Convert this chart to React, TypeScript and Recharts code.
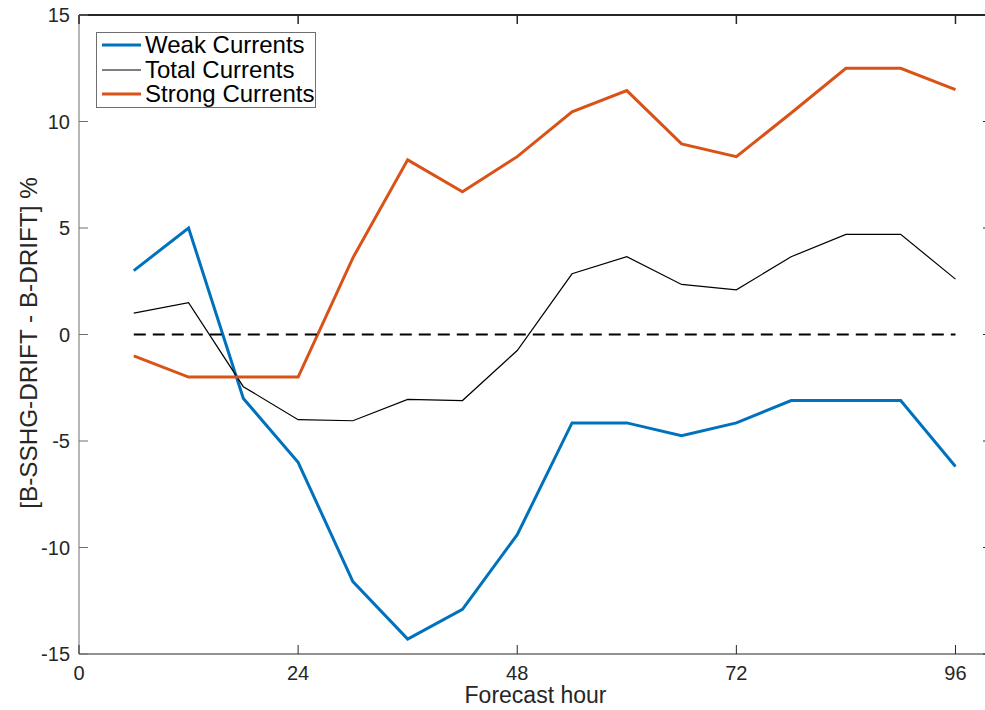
import { LineChart, Line, XAxis, YAxis, Label, ReferenceLine } from 'recharts';

const hours = [6, 12, 18, 24, 30, 36, 42, 48, 54, 60, 66, 72, 78, 84, 90, 96];
const weakCurrents = [3, 5, -3, -6, -11.6, -14.3, -12.9, -9.4, -4.15, -4.15, -4.75, -4.15, -3.1, -3.1, -3.1, -6.2];
const totalCurrents = [1, 1.5, -2.45, -4.0, -4.05, -3.05, -3.1, -0.75, 2.85, 3.65, 2.35, 2.1, 3.65, 4.7, 4.7, 2.6];
const strongCurrents = [-1, -2, -2, -2, 3.6, 8.2, 6.7, 8.35, 10.45, 11.45, 8.95, 8.35, 10.4, 12.5, 12.5, 11.5];
const zeroLine = hours.map(() => 0);

const xTicks = [0, 24, 48, 72, 96];
const yTicks = [-15, -10, -5, 0, 5, 10, 15];
const yMax = 15;

const series = [
  { key: 'weak', name: 'Weak Currents', color: '#0072BD', width: 3 },
  { key: 'total', name: 'Total Currents', color: '#000000', width: 1.2 },
  { key: 'strong', name: 'Strong Currents', color: '#D95319', width: 3 },
];

const data = hours.map((h, i) => ({
  hour: h,
  weak: weakCurrents[i],
  total: totalCurrents[i],
  strong: strongCurrents[i],
  zero: zeroLine[i],
}));

const FONT = '"Liberation Sans", Arial, Helvetica, sans-serif';
const AXIS = '#262626';
const FRAME = '#6e6e6e';
const TICK_LEN = 9;
const PLOT_TOP = 15;

// bottom ticks also draw the mirrored tick on the top edge of the box
function BottomTick(props: any) {
  const { x, y, payload } = props;
  return (
    <g>
      <line x1={x} x2={x} y1={y} y2={y - TICK_LEN} stroke={AXIS} strokeWidth={1} />
      <line x1={x} x2={x} y1={PLOT_TOP} y2={PLOT_TOP + TICK_LEN} stroke={AXIS} strokeWidth={1.5} />
      <text x={x} y={y + 26} textAnchor="middle" fontSize={20} fontFamily={FONT} fill={AXIS}>
        {payload.value}
      </text>
    </g>
  );
}

function LeftTick(props: any) {
  const { x, y, payload } = props;
  return (
    <g>
      <line x1={x} x2={x + TICK_LEN} y1={y} y2={y} stroke={FRAME} strokeWidth={1} />
      <text x={x - 9} y={y + 7} textAnchor="end" fontSize={20} fontFamily={FONT} fill={AXIS}>
        {payload.value}
      </text>
    </g>
  );
}

function RightTick(props: any) {
  const { x, y } = props;
  return <line x1={x} x2={x - TICK_LEN} y1={y} y2={y} stroke={AXIS} strokeWidth={1} />;
}

function XTitle(props: any) {
  const vb = props.viewBox;
  return (
    <text x={vb.x + vb.width / 2} y={703} textAnchor="middle" fontSize={23} fontFamily={FONT} fill={AXIS}>
      Forecast hour
    </text>
  );
}

function YTitle(props: any) {
  const vb = props.viewBox;
  const cy = vb.y + vb.height / 2 + 8.5;
  return (
    <text transform={`translate(37, ${cy}) rotate(-90)`} textAnchor="middle" fontSize={24.3} fontFamily={FONT} fill={AXIS}>
      [B-SSHG-DRIFT - B-DRIFT] %
    </text>
  );
}

function LegendBox() {
  return (
    <div
      style={{
        position: 'absolute',
        left: 96,
        top: 32,
        width: 220,
        height: 76,
        boxSizing: 'border-box',
        border: `1px solid ${FRAME}`,
        background: '#fff',
        fontFamily: FONT,
        fontSize: 24,
        color: '#000',
      }}
    >
      {series.map((s) => (
        <div key={s.key} style={{ display: 'flex', alignItems: 'center', height: 24.5, lineHeight: '24.5px' }}>
          <svg width={44} height={10} style={{ marginLeft: 4, flexShrink: 0 }}>
            <line x1={1} x2={40} y1={5} y2={5} stroke={s.color} strokeWidth={s.width} />
          </svg>
          <span style={{ whiteSpace: 'nowrap' }}>{s.name}</span>
        </div>
      ))}
    </div>
  );
}

export default function App() {
  return (
    <div style={{ position: 'fixed', left: 0, top: 0, width: 985, height: 710, overflow: 'hidden', background: '#fff' }}>
      <LineChart width={993} height={710} data={data} margin={{ top: PLOT_TOP, right: 0, bottom: 0, left: 0 }}>
        <XAxis
          dataKey="hour"
          type="number"
          domain={[0, 100]}
          ticks={xTicks}
          height={56}
          tickSize={0}
          tickMargin={0}
          tick={<BottomTick />}
          axisLine={{ stroke: AXIS, strokeWidth: 1 }}
          allowDataOverflow
        >
          <Label content={<XTitle />} />
        </XAxis>
        <YAxis
          type="number"
          domain={[-15, yMax]}
          ticks={yTicks}
          width={79}
          tickSize={0}
          tickMargin={0}
          tick={<LeftTick />}
          axisLine={{ stroke: FRAME, strokeWidth: 1 }}
          allowDataOverflow
        >
          <Label content={<YTitle />} />
        </YAxis>
        <YAxis
          yAxisId="right"
          orientation="right"
          type="number"
          domain={[-15, yMax]}
          ticks={yTicks}
          width={1}
          tickSize={0}
          tickMargin={0}
          tick={<RightTick />}
          axisLine={{ stroke: FRAME, strokeWidth: 1 }}
          allowDataOverflow
        />
        <ReferenceLine y={yMax} stroke={AXIS} strokeWidth={2} ifOverflow="visible" />
        {series.map((s) => (
          <Line
            key={s.key}
            dataKey={s.key}
            name={s.name}
            type="linear"
            stroke={s.color}
            strokeWidth={s.width}
            dot={false}
            activeDot={false}
            isAnimationActive={false}
            strokeLinejoin="miter"
          />
        ))}
        <Line
          dataKey="zero"
          yAxisId="right"
          type="linear"
          stroke="#000"
          strokeWidth={2}
          strokeDasharray="12 7"
          dot={false}
          activeDot={false}
          legendType="none"
          isAnimationActive={false}
        />
      </LineChart>
      <LegendBox />
    </div>
  );
}
